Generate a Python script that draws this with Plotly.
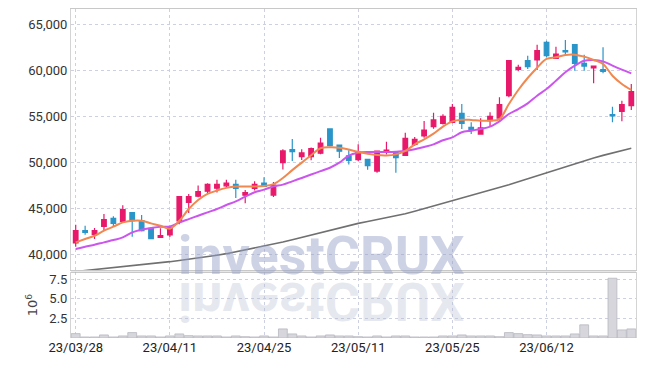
import plotly.graph_objects as go

dates = ["2023-03-28","2023-03-29","2023-03-30","2023-03-31","2023-04-03","2023-04-04","2023-04-05","2023-04-06","2023-04-07","2023-04-10",
         "2023-04-11","2023-04-12","2023-04-13","2023-04-14","2023-04-17","2023-04-18","2023-04-19","2023-04-20","2023-04-21","2023-04-24",
         "2023-04-25","2023-04-26","2023-04-27","2023-04-28","2023-05-02","2023-05-03","2023-05-04","2023-05-08","2023-05-09","2023-05-10",
         "2023-05-11","2023-05-12","2023-05-15","2023-05-16","2023-05-17","2023-05-18","2023-05-19","2023-05-22","2023-05-23","2023-05-24",
         "2023-05-25","2023-05-26","2023-05-30","2023-05-31","2023-06-01","2023-06-02","2023-06-05","2023-06-07","2023-06-08","2023-06-09",
         "2023-06-12","2023-06-13","2023-06-14","2023-06-15","2023-06-16","2023-06-19","2023-06-20","2023-06-21","2023-06-22","2023-06-23"]

opens  = [41200,42540,42140,43010,43880,43550,44490,43620,42790,41810,
          42080,43610,45620,46280,46830,47150,47410,47560,46390,47120,
          47720,46410,49930,51360,50590,50590,50960,53600,51840,50660,
          50250,50290,49020,51090,51020,50720,51920,52830,53840,54200,
          54310,55290,53770,53040,54490,54780,57210,60070,61010,61090,
          63010,61270,62100,62750,60720,60220,60040,55150,55510,56120]
highs  = [43190,43080,42830,44350,44100,45290,44490,44240,42790,42790,
          42960,46300,46530,47450,47700,48070,48070,48070,46970,47920,
          48350,47830,51400,52500,51400,51580,52650,53650,51840,51290,
          51920,50290,51200,52210,51020,53190,52720,54460,55360,55180,
          56300,56300,54310,54750,55400,57030,61090,60580,61560,62750,
          63190,62540,63260,62750,61670,60440,62460,56010,56670,58480]
lows   = [40800,42100,41630,42610,43010,43440,41880,42460,41670,41810,
          41860,43250,44450,46170,46530,46680,47190,46100,45510,46900,
          47280,46200,49190,50110,50220,50180,50850,51690,50440,49740,
          50110,49170,48840,50830,48840,50650,51740,52650,53620,54090,
          54200,53590,53040,53040,53840,54490,57030,59860,60110,60000,
          61380,61200,61670,59930,59930,58550,59640,54310,54420,55650]
closes = [42540,42360,42540,43730,43330,44820,43620,42540,41670,41990,
          42880,46240,46240,46790,47560,47560,47700,47120,46680,47560,
          47350,47500,51210,51140,50990,51470,52060,51770,51180,50180,
          51090,49600,51200,51300,50470,52570,52460,53480,54570,54960,
          55940,54200,53410,53700,54960,56230,61010,60290,60360,62100,
          61560,61740,61960,60720,60430,60430,59860,55000,56230,57650]

ma5 = [41270,41630,41990,42540,42970,43440,43620,43620,43330,43080,
       42750,43610,44890,45880,46530,46900,47190,47340,47340,47340,
       47400,47600,48270,49120,49930,50730,51500,51600,51550,51350,
       51090,50900,50760,50720,50830,51200,51920,52460,53080,53850,
       54420,54600,54570,54490,54490,54670,56300,57830,59130,60250,
       61200,61380,61630,61670,61450,61090,60650,59380,58480,57830]
ma20 = [40540,40800,41010,41270,41520,41810,42360,42650,42830,42970,
        43000,43430,43800,44160,44530,44890,45330,45730,46240,46720,
        47000,47350,47540,47900,48270,48640,49010,49380,49930,50700,
        51000,51090,51090,51090,51120,51200,51380,51630,51920,52360,
        52680,53230,53410,53590,53840,54420,55220,55760,56380,57210,
        57940,58840,59750,60470,61010,61090,60940,60470,60040,59640]
ma_long = [38100,38200,38300,38400,38500,38600,38700,38800,38920,39040,
           39170,39300,39430,39560,39700,39860,40040,40240,40440,40650,
           40860,41070,41300,41550,41800,42060,42330,42600,42870,43130,
           43330,43530,43730,43930,44130,44380,44650,44930,45230,45560,
           45850,46130,46400,46670,46950,47200,47530,47850,48180,48520,
           48850,49180,49500,49820,50130,50430,50720,50990,51250,51500]

volume_m = [0.56,0.13,0.13,0.39,0.13,0.26,0.69,0.26,0.26,0.13,
            0.26,0.52,0.30,0.26,0.26,0.26,0.13,0.26,0.17,0.13,
            0.26,0.13,1.16,0.52,0.26,0.13,0.26,0.39,0.26,0.26,
            0.17,0.13,0.26,0.13,0.26,0.26,0.13,0.13,0.13,0.26,
            0.26,0.39,0.26,0.26,0.26,0.17,0.69,0.56,0.43,0.39,
            0.26,0.26,0.26,0.52,1.68,0.26,0.26,7.63,1.03,1.16]
volume = [v * 1e6 for v in volume_m]

tick_dates = dates[::10]
tick_labels = ["23/03/28", "23/04/11", "23/04/25", "23/05/11", "23/05/25", "23/06/12"]
price_ticks = [40000, 45000, 50000, 55000, 60000, 65000]
price_tick_text = ["40,000", "45,000", "50,000", "55,000", "60,000", "65,000"]
vol_ticks = [2.5e6, 5e6, 7.5e6]
vol_tick_text = ["2.5", "5.0", "7.5"]

FONT = "Roboto, sans-serif"
GRID = "#cdd0e0"

fig = go.Figure()
fig.add_trace(go.Scatter(x=dates, y=ma_long, mode="lines", line=dict(color="#707070", width=1.6),
                         xaxis="x", yaxis="y", showlegend=False))
fig.add_trace(go.Scatter(x=dates, y=ma20, mode="lines", line=dict(color="#cc55ee", width=2, shape="spline"),
                         xaxis="x", yaxis="y", showlegend=False))
fig.add_trace(go.Scatter(x=dates, y=ma5, mode="lines", line=dict(color="#f08850", width=2, shape="spline"),
                         xaxis="x", yaxis="y", showlegend=False))
fig.add_trace(go.Candlestick(x=dates, open=opens, high=highs, low=lows, close=closes,
                             increasing=dict(line=dict(color="#e8196a", width=1.2), fillcolor="#e8196a"),
                             decreasing=dict(line=dict(color="#2a95c8", width=1.2), fillcolor="#2a95c8"),
                             whiskerwidth=0, xaxis="x", yaxis="y", showlegend=False))
fig.add_trace(go.Bar(x=dates, y=volume, marker=dict(color="#d6d6dc", line=dict(color="#b8b8c0", width=0.8)),
                     xaxis="x2", yaxis="y2", showlegend=False))

fig.update_layout(
    width=645, height=366,
    margin=dict(l=71, r=9, t=9, b=28),
    paper_bgcolor="white", plot_bgcolor="white",
    font=dict(family=FONT, size=13, color="#333333"),
    bargap=0.06,
    xaxis=dict(domain=[0, 1], anchor="y", type="category", range=[-0.5, 59.5],
               tickvals=tick_dates, showticklabels=False, ticks="", automargin=False,
               showgrid=True, gridcolor=GRID, griddash="dot", gridwidth=1,
               showline=True, mirror=True, linecolor="#c8c8c8", linewidth=1,
               rangeslider=dict(visible=False), zeroline=False),
    yaxis=dict(domain=[0.206, 1], anchor="x", range=[38240, 66630],
               tickvals=price_ticks, ticktext=price_tick_text, ticks="", automargin=False,
               showgrid=True, gridcolor=GRID, griddash="dot", gridwidth=1,
               showline=True, mirror=True, linecolor="#d4d4d4", zeroline=False,
               tickfont=dict(family=FONT, size=13, color="#333333")),
    xaxis2=dict(domain=[0, 1], anchor="y2", type="category", range=[-0.5, 59.5],
                tickvals=tick_dates, ticktext=tick_labels, ticks="", automargin=False,
                showgrid=True, gridcolor=GRID, griddash="dot", gridwidth=1,
                showline=False, zeroline=False,
                tickfont=dict(family=FONT, size=13, color="#222222")),
    yaxis2=dict(domain=[0, 0.2], anchor="x2", range=[0, 8.4e6],
                tickvals=vol_ticks, ticktext=vol_tick_text, ticks="", automargin=False,
                showgrid=True, gridcolor=GRID, griddash="dot", gridwidth=1,
                showline=True, mirror=True, linecolor="#d4d4d4", zeroline=False,
                tickfont=dict(family=FONT, size=13, color="#333333"),
                title=dict(text="10<sup>6</sup>", standoff=8,
                           font=dict(family="DejaVu Sans, sans-serif", size=13, color="#444444"))),
    shapes=[dict(type="line", xref="paper", yref="paper", x0=0, x1=1, y0=0.2, y1=0.2,
                 line=dict(color="#b0b0b0", width=1))],
    annotations=[
        dict(text="investCRUX", xref="paper", yref="paper", x=0.444, y=0.150,
             xanchor="center", yanchor="bottom", showarrow=False,
             font=dict(family=FONT, size=54, color="rgba(150,160,200,0.48)", weight=700)),
        dict(text="investCRUX", xref="paper", yref="paper", x=0.444, y=0.212,
             xanchor="center", yanchor="top", showarrow=False,
             font=dict(family=FONT, size=54, color="rgba(175,184,209,0.33)", weight=700)),
    ],
)

post = """
document.body.style.margin = '0';
document.body.style.padding = '0';
var gd = document.getElementById('{plot_id}');
var anns = gd.querySelectorAll('g.annotation');
if (anns.length > 1) {
  var t = anns[1].querySelector('text');
  t.style.transformBox = 'fill-box';
  t.style.transformOrigin = 'center';
  t.style.transform = 'scaleY(-1)';
}
"""
fig.write_html("out.html", post_script=post, config={"displayModeBar": False})
